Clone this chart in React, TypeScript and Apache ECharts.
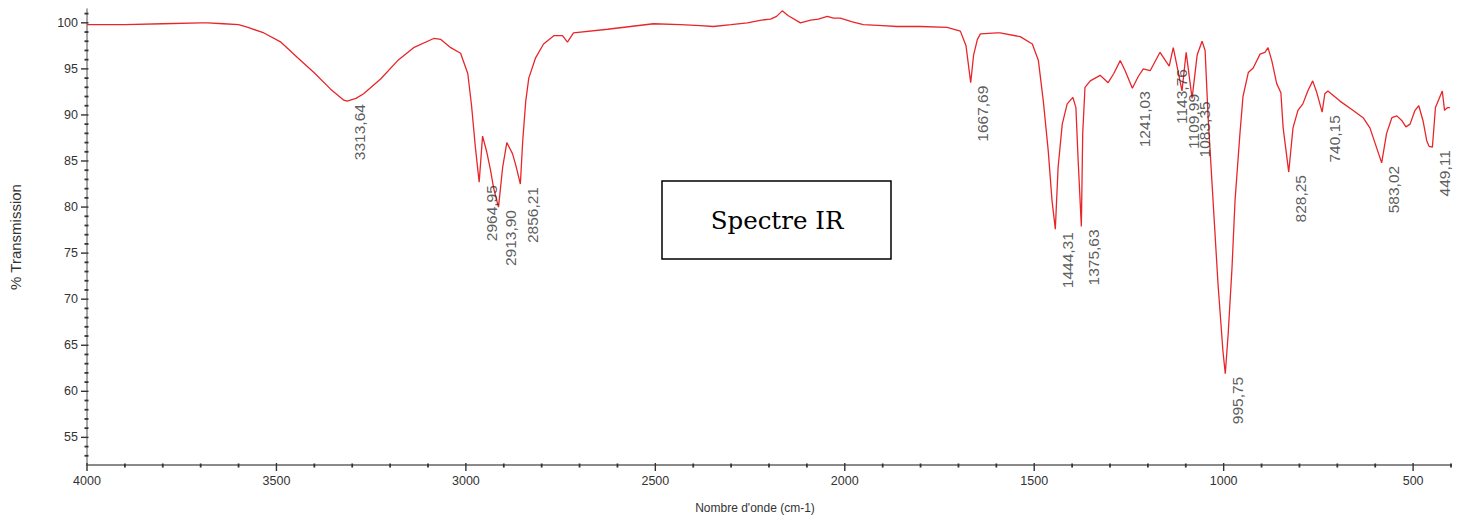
import React, { useEffect, useRef } from "react";
import * as echarts from "echarts";

// Spectrum: wavenumber (cm-1) and % transmission
const wavenumbers = [
  4000, 3900, 3800, 3700, 3681, 3640, 3600, 3575, 3533, 3488, 3444, 3401, 3357, 3322, 3313.64, 3290, 3270, 3225, 3180, 3138,
  3085, 3066, 3040, 3014, 2995, 2985, 2975, 2964.95, 2956, 2945, 2935, 2927, 2913.9, 2903, 2892, 2877, 2868, 2856.21, 2850, 2842,
  2834, 2816, 2795, 2768, 2745, 2732, 2716, 2626, 2505, 2434, 2381, 2347, 2300, 2257, 2220, 2196, 2180, 2165, 2150, 2117,
  2090, 2070, 2046, 2030, 2012, 1980, 1951, 1900, 1862, 1800, 1730, 1695, 1680, 1667.69, 1660, 1650, 1642, 1598, 1590, 1537,
  1505, 1489, 1476, 1463, 1453, 1444.31, 1437, 1426, 1413, 1398, 1390, 1384, 1375.63, 1372, 1366, 1352, 1326, 1305, 1290, 1273,
  1260, 1241.03, 1225, 1212, 1194, 1168, 1143.76, 1133, 1109.99, 1099, 1083.35, 1070, 1057, 1049, 1041, 1028, 1015, 1002, 995.75, 988,
  978, 970, 957, 949, 935, 922, 904, 891, 883, 873, 860, 849, 843, 828.25, 817, 804, 791, 778, 765, 754,
  740.15, 733, 725, 693, 659, 632, 614, 596, 583.02, 570, 556, 543, 530, 519, 508, 495, 485, 474, 464, 458,
  449.11, 441, 432, 423, 417, 409, 403,
];
const transmission = [
  99.8, 99.8, 99.9, 100.0, 100.0, 99.9, 99.8, 99.5, 98.9, 97.9, 96.2, 94.6, 92.8, 91.6, 91.5, 91.8, 92.3, 93.9, 95.9, 97.3,
  98.3, 98.2, 97.3, 96.7, 94.5, 91.0, 86.5, 82.7, 87.7, 86.0, 84.0, 82.1, 80.0, 84.3, 87.0, 85.8, 84.5, 82.5, 87.2, 91.5,
  94.0, 96.2, 97.7, 98.6, 98.6, 97.9, 98.9, 99.3, 99.9, 99.8, 99.7, 99.6, 99.8, 100.0, 100.3, 100.4, 100.7, 101.3, 100.8, 100.0,
  100.3, 100.4, 100.7, 100.5, 100.5, 100.1, 99.8, 99.7, 99.6, 99.6, 99.5, 99.1, 97.5, 93.5, 96.5, 98.2, 98.8, 98.9, 98.9, 98.5,
  97.7, 95.9, 91.5, 86.1, 80.7, 77.6, 84.3, 89.0, 91.2, 91.9, 90.8, 85.0, 77.9, 88.0, 93.0, 93.7, 94.3, 93.5, 94.5, 95.9,
  94.8, 92.9, 94.2, 95.0, 94.8, 96.8, 95.3, 97.3, 92.6, 96.8, 91.8, 96.5, 98.0, 97.0, 89.7, 80.7, 71.7, 64.4, 61.9, 66.3,
  73.4, 80.7, 88.0, 92.0, 94.6, 95.1, 96.6, 96.8, 97.3, 95.9, 93.4, 92.4, 88.6, 83.8, 88.6, 90.5, 91.2, 92.6, 93.7, 92.4,
  90.3, 92.3, 92.6, 91.5, 90.5, 89.7, 88.6, 86.4, 84.8, 88.0, 89.7, 89.9, 89.4, 88.7, 89.0, 90.5, 91.0, 89.4, 87.2, 86.6,
  86.5, 90.8, 91.7, 92.6, 90.5, 90.8, 90.8,
];

// Labelled peaks
const peakWavenumbers = [3313.64, 2964.95, 2913.9, 2856.21, 1667.69, 1444.31, 1375.63, 1241.03, 1143.76, 1109.99, 1083.35, 995.75, 828.25, 740.15, 583.02, 449.11];
const peakTransmission = [91.5, 82.7, 80.0, 82.5, 93.5, 77.6, 77.9, 92.9, 95.3, 92.6, 91.8, 61.9, 83.8, 90.3, 84.8, 86.5];
const peakLabels = ["3313,64", "2964,95", "2913,90", "2856,21", "1667,69", "1444,31", "1375,63", "1241,03", "1143,76", "1109,99", "1083,35", "995,75", "828,25", "740,15", "583,02", "449,11"];

// Axis ticks
const xMajorTicks = [500, 1000, 1500, 2000, 2500, 3000, 3500, 4000];
const xMinorTicks = [
  400, 600, 700, 800, 900, 1100, 1200, 1300, 1400, 1600, 1700, 1800, 1900, 2100, 2200, 2300, 2400,
  2600, 2700, 2800, 2900, 3100, 3200, 3300, 3400, 3600, 3700, 3800, 3900,
];
const yMajorTicks = [55, 60, 65, 70, 75, 80, 85, 90, 95, 100];
const yMinorTicks = [
  53, 54, 56, 57, 58, 59, 61, 62, 63, 64, 66, 67, 68, 69, 71, 72, 73, 74, 76, 77, 78, 79,
  81, 82, 83, 84, 86, 87, 88, 89, 91, 92, 93, 94, 96, 97, 98, 99, 101,
];

const X_MIN = 400;
const X_MAX = 4000;
const Y_MIN = 52;
const Y_MAX = 101.5;

const title = "Spectre IR";
const xName = "Nombre d'onde (cm-1)";
const yName = "% Transmission";

export default function App() {
  const ref = useRef<HTMLDivElement>(null);
  useEffect(() => {
    if (!ref.current) return;
    const chart = echarts.init(ref.current, undefined, { renderer: "svg" });
    const lineData = wavenumbers.map((w, i) => [w, transmission[i]]);
    const peakData = peakWavenumbers.map((w, i) => [w, peakTransmission[i], peakLabels[i]]);
    const axisColor = "#8a8a8a";
    const tickColor = "#333";
    const labelColor = "#333";
    const font = "Arial, Liberation Sans, sans-serif";

    const xTickData = [
      ...xMajorTicks.map((v) => [v, Y_MIN, 1]),
      ...xMinorTicks.map((v) => [v, Y_MIN, 0]),
    ];
    const yTickData = [
      ...yMajorTicks.map((v) => [X_MAX, v, 1]),
      ...yMinorTicks.map((v) => [X_MAX, v, 0]),
    ];

    chart.setOption({
      animation: false,
      backgroundColor: "#fff",
      grid: { left: 86, right: 22, top: 9, bottom: 58, containLabel: false },
      xAxis: {
        type: "value",
        min: X_MIN,
        max: X_MAX,
        inverse: true,
        position: "bottom",
        name: xName,
        nameLocation: "middle",
        nameGap: 37,
        nameTextStyle: { fontFamily: font, fontSize: 12, color: labelColor, padding: [0, 28, 0, 0] },
        axisLine: { show: true, lineStyle: { color: axisColor, width: 2 } },
        axisTick: { show: false },
        axisLabel: {
          show: true,
          customValues: xMajorTicks,
          margin: 9,
          fontFamily: font,
          fontSize: 12.5,
          color: labelColor,
          formatter: (v: number) => String(v),
        },
        splitLine: { show: false },
      },
      yAxis: {
        type: "value",
        min: Y_MIN,
        max: Y_MAX,
        position: "left",
        name: yName,
        nameLocation: "middle",
        nameGap: 64,
        nameTextStyle: { fontFamily: font, fontSize: 15, color: labelColor },
        axisLine: { show: true, lineStyle: { color: axisColor, width: 1.5 } },
        axisTick: { show: false },
        axisLabel: { show: true, customValues: yMajorTicks, margin: 9, fontFamily: font, fontSize: 12.5, color: labelColor },
        splitLine: { show: false },
      },
      series: [
        {
          type: "line",
          data: lineData,
          showSymbol: false,
          symbol: "none",
          lineStyle: { color: "#e8262a", width: 1.3 },
          clip: true,
          z: 2,
        },
        {
          type: "scatter",
          data: peakData,
          symbolSize: 0,
          z: 3,
          label: {
            show: true,
            formatter: (p: any) => p.data[2],
            position: [4, 3],
            rotate: 90,
            align: "right",
            verticalAlign: "top",
            fontFamily: font,
            fontSize: 15.5,
            color: labelColor,
          },
        },
        {
          type: "custom",
          data: xTickData,
          clip: false,
          silent: true,
          z: 4,
          renderItem: (params: any, api: any) => {
            const p = api.coord([api.value(0), api.value(1)]);
            const major = api.value(2) === 1;
            return {
              type: "line",
              shape: { x1: p[0], y1: p[1] - (major ? 2 : 1.5), x2: p[0], y2: p[1] + (major ? 6 : 2.5) },
              style: { stroke: tickColor, lineWidth: major ? 1.4 : 1.8 },
            };
          },
        },
        {
          type: "custom",
          data: yTickData,
          clip: false,
          silent: true,
          z: 4,
          renderItem: (params: any, api: any) => {
            const p = api.coord([api.value(0), api.value(1)]);
            const major = api.value(2) === 1;
            return {
              type: "line",
              shape: { x1: p[0] - (major ? 6 : 2.5), y1: p[1], x2: p[0] + (major ? 1.5 : 1.5), y2: p[1] },
              style: { stroke: tickColor, lineWidth: major ? 1.4 : 1.8 },
            };
          },
        },
      ],
      graphic: [
        {
          type: "rect",
          shape: { x: 662, y: 181, width: 229, height: 78 },
          style: { fill: "#fff", stroke: "#000", lineWidth: 1.5 },
          z: 10,
        },
        {
          type: "text",
          x: 777,
          y: 220,
          style: {
            text: title,
            fontFamily: "DejaVu Serif",
            fontSize: 24.5,
            fill: "#000",
            align: "center",
            verticalAlign: "middle",
          },
          z: 11,
        },
      ],
    });
    return () => chart.dispose();
  }, []);
  return (
    <div
      ref={ref}
      style={{ position: "fixed", left: 0, top: 0, width: 1473, height: 523, background: "#fff" }}
    />
  );
}
